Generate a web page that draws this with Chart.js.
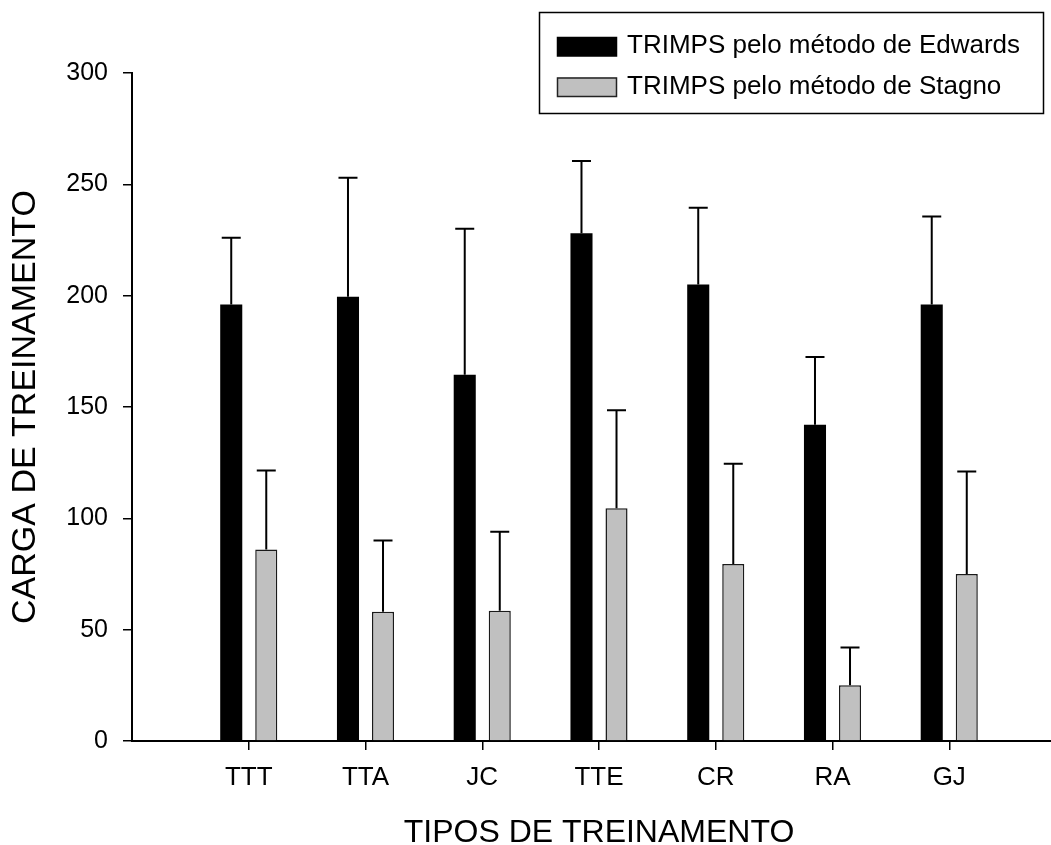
<!DOCTYPE html>
<html>
<head>
<meta charset="utf-8">
<script src="https://cdn.jsdelivr.net/npm/chart.js@4.4.1/dist/chart.umd.min.js"></script>
<style>
  html, body { margin: 0; padding: 0; background: #fff; overflow: hidden; }
  canvas { display: block; }
</style>
</head>
<body>
<canvas id="myChart" width="1066" height="845"></canvas>
<script>
// training types and TRIMPS loads (mean + SD)
const categories = ['TTT', 'TTA', 'JC', 'TTE', 'CR', 'RA', 'GJ'];
const edwardsMean = [196, 199.5, 164.5, 228, 205, 142, 196];
const edwardsSD = [30, 53.5, 65.5, 32.5, 34.5, 30.5, 39.5];
const stagnoMean = [86, 58, 58.5, 104.5, 79.5, 25, 75];
const stagnoSD = [35.5, 32, 35.5, 44, 45, 17, 46];
const yTicks = [0, 50, 100, 150, 200, 250, 300];

const FONT = '"Liberation Sans", Arial, sans-serif';

// draws the upward SD whiskers on top of each bar
const errorBars = {
    id: 'errorBars',
    afterDatasetsDraw(chart) {
        const ctx = chart.ctx;
        const yScale = chart.scales.y;
        ctx.save();
        ctx.strokeStyle = '#000';
        ctx.lineWidth = 2;
        chart.data.datasets.forEach((ds, d) => {
            const meta = chart.getDatasetMeta(d);
            meta.data.forEach((bar, i) => {
                const top = yScale.getPixelForValue(ds.data[i].y + ds.errors[i]);
                ctx.beginPath();
                ctx.moveTo(bar.x, bar.y);
                ctx.lineTo(bar.x, top);
                ctx.moveTo(bar.x - 9.5, top);
                ctx.lineTo(bar.x + 9.5, top);
                ctx.stroke();
            });
        });
        ctx.restore();
    }
};

// boxed legend in the top right corner
const boxLegend = {
    id: 'boxLegend',
    afterDraw(chart) {
        const ctx = chart.ctx;
        ctx.save();
        ctx.strokeStyle = '#000';
        ctx.lineWidth = 1.5;
        ctx.strokeRect(539.5, 12.5, 504, 101);
        ctx.font = '26px ' + FONT;
        ctx.textBaseline = 'middle';
        chart.data.datasets.forEach((ds, d) => {
            const y = 37 + d * 40.5;
            ctx.fillStyle = ds.backgroundColor;
            ctx.fillRect(557, y, 60, 19);
            ctx.strokeStyle = d === 0 ? '#000' : '#222';
            ctx.lineWidth = 1.5;
            ctx.strokeRect(557.5, y + 0.5, 59, 18.5);
            ctx.fillStyle = '#000';
            ctx.fillText(ds.label, 627, y + 9);
        });
        ctx.restore();
    }
};

const ctx = document.getElementById('myChart');

new Chart(ctx, {
    type: 'bar',
    data: {
        datasets: [{
            label: 'TRIMPS pelo método de Edwards',
            data: categories.map((c, i) => ({ x: i + 1, y: edwardsMean[i] })),
            errors: edwardsSD,
            backgroundColor: '#000000',
            borderWidth: 0,
            categoryPercentage: 0.6,
            barPercentage: 0.63
        }, {
            label: 'TRIMPS pelo método de Stagno',
            data: categories.map((c, i) => ({ x: i + 1, y: stagnoMean[i] })),
            errors: stagnoSD,
            backgroundColor: '#c0c0c0',
            borderColor: '#1a1a1a',
            borderWidth: 1.5,
            categoryPercentage: 0.6,
            barPercentage: 0.63
        }]
    },
    options: {
        responsive: false,
        animation: false,
        layout: { padding: { top: 73, left: 0, right: 0, bottom: 0 } },
        plugins: {
            legend: { display: false },
            tooltip: { enabled: false }
        },
        scales: {
            x: {
                type: 'linear',
                min: 0,
                max: 8,
                offset: false,
                afterBuildTicks: scale => { scale.ticks = categories.map((c, i) => ({ value: i + 1 })); },
                afterFit: scale => { scale.height = 104; },
                grid: { offset: false, drawOnChartArea: false, drawTicks: true, tickLength: 9, color: '#000', lineWidth: 1.5 },
                border: { color: '#000', width: 2 },
                ticks: {
                    color: '#000',
                    font: { family: FONT, size: 26 },
                    padding: 12,
                    maxRotation: 0,
                    autoSkip: false,
                    callback: v => categories[v - 1] || ''
                },
                title: {
                    display: true,
                    text: 'TIPOS DE TREINAMENTO',
                    color: '#000',
                    font: { family: FONT, size: 32, lineHeight: 1 },
                    padding: { top: 0, bottom: -4 }
                }
            },
            y: {
                min: 0,
                max: 300,
                afterBuildTicks: scale => { scale.ticks = yTicks.map(v => ({ value: v })); },
                afterFit: scale => { scale.width = 132; },
                grid: { drawOnChartArea: false, drawTicks: true, tickLength: 9, color: '#000', lineWidth: 1.5 },
                border: { color: '#000', width: 2 },
                ticks: {
                    color: '#000',
                    font: { family: FONT, size: 25 },
                    padding: 15
                },
                title: {
                    display: true,
                    text: 'CARGA DE TREINAMENTO',
                    color: '#000',
                    font: { family: FONT, size: 34, lineHeight: 1.2 },
                    padding: { top: 5, bottom: 0 }
                }
            }
        }
    },
    plugins: [errorBars, boxLegend]
});
</script>
</body>
</html>
